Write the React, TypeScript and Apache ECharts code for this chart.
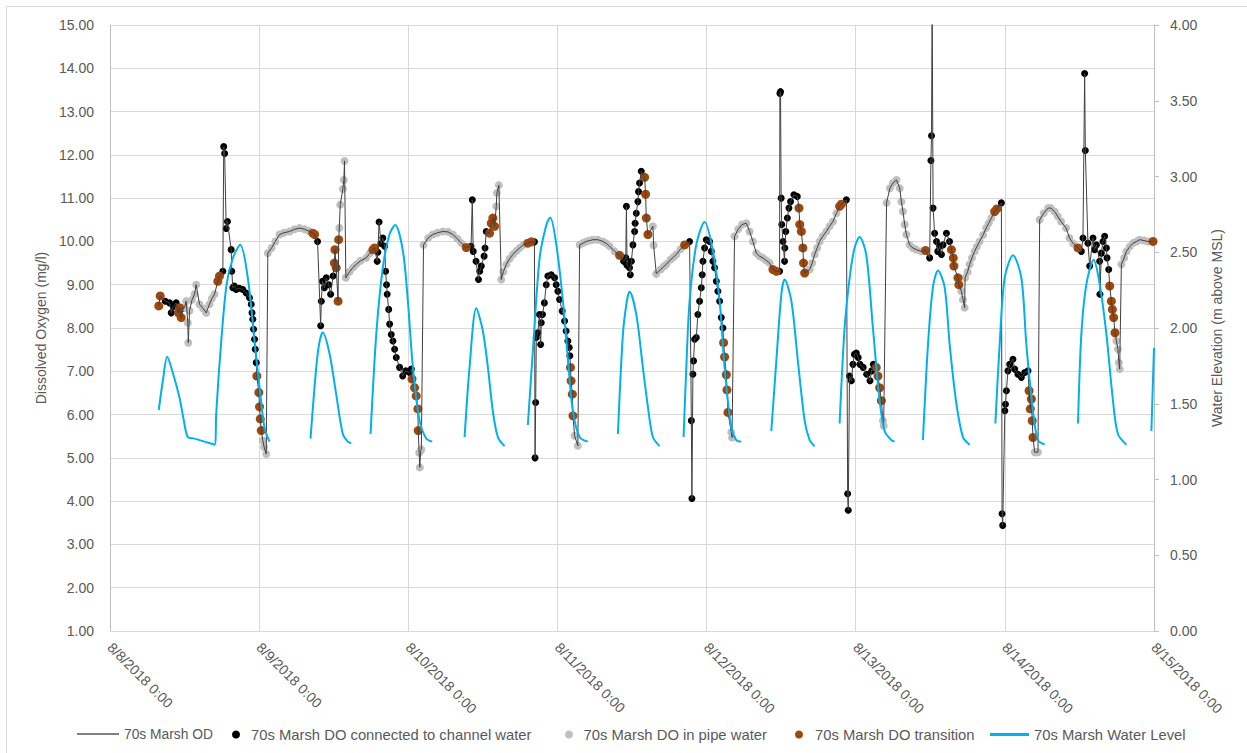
import React, { useEffect, useRef } from 'react';
import * as echarts from 'echarts';

// hours since 8/8/2018 0:00
const tickLabels = ['8/8/2018 0:00', '8/9/2018 0:00', '8/10/2018 0:00', '8/11/2018 0:00', '8/12/2018 0:00', '8/13/2018 0:00', '8/14/2018 0:00', '8/15/2018 0:00'];

const channel: [number, number][] = [
  [8.9, 8.62], [9.58, 8.58], [9.85, 8.35], [10.2, 8.5], [10.65, 8.58], [11.7, 8.45],
  [18.16, 9.31], [18.3, 12.19], [18.45, 12.03], [18.7, 10.3], [18.9, 10.46], [19.5, 9.81], [19.6, 9.31], [19.76, 8.93], [20.0, 8.97], [20.31, 8.89], [20.8, 8.92], [21.37, 8.89], [21.92, 8.81], [22.45, 8.7], [22.73, 8.55], [22.85, 8.35], [22.98, 8.2], [23.1, 7.97], [23.26, 7.74], [23.37, 7.51], [23.53, 7.2],
  [33.4, 10.0], [33.9, 8.05], [34.0, 8.62], [34.2, 9.08], [34.5, 8.93], [34.8, 9.16], [35.2, 9.0], [35.5, 8.78], [35.9, 9.2],
  [43.0, 9.54], [43.1, 9.75], [43.3, 10.45], [43.6, 9.95], [43.9, 10.08], [44.2, 9.89], [44.35, 9.31], [44.5, 9.0], [44.6, 8.78], [44.85, 8.43], [45.0, 8.09], [45.26, 7.85], [45.53, 7.7], [45.8, 7.51], [46.07, 7.32], [46.6, 7.09], [47.1, 6.89], [47.6, 7.01], [48.2, 6.97], [48.5, 7.05],
  [58.1, 9.89], [58.3, 10.96], [58.45, 9.77], [58.9, 9.54], [59.3, 9.12], [59.5, 9.31], [59.75, 9.43], [60.2, 9.66], [60.35, 9.85], [60.55, 10.23],
  [68.3, 9.99], [68.4, 5.0], [68.5, 6.28], [68.6, 7.78], [68.85, 7.89], [69.1, 8.31], [69.3, 7.62], [69.4, 8.12], [69.6, 8.31], [69.9, 8.58], [70.2, 9.0], [70.46, 9.2], [71.0, 9.23], [71.54, 9.16], [71.8, 9.0], [72.07, 8.85], [72.34, 8.66], [72.77, 8.39], [73.15, 8.16], [73.4, 7.93], [73.68, 7.7], [73.9, 7.55], [74.0, 7.36],
  [82.65, 9.54], [83.0, 9.62], [83.1, 10.81], [83.2, 9.45], [83.6, 9.39], [83.73, 9.23], [83.9, 9.54], [84.15, 9.92], [84.42, 10.23], [84.5, 10.42], [84.69, 10.65], [84.95, 10.92], [85.05, 11.15], [85.22, 11.35], [85.49, 11.62],
  [93.27, 10.0], [93.55, 5.86], [93.64, 4.06], [93.8, 6.93], [93.9, 7.24], [94.08, 7.74], [94.35, 7.78], [94.6, 8.31], [94.88, 8.62], [95.15, 8.93], [95.3, 9.23], [95.41, 9.54], [95.68, 9.85], [95.95, 10.04], [96.49, 10.0], [96.76, 9.77], [97.02, 9.54], [97.29, 9.39], [97.57, 9.08], [97.82, 8.85], [98.1, 8.62], [98.37, 8.24], [98.63, 8.0],
  [107.75, 9.31], [107.8, 13.42], [107.9, 13.46], [108.0, 11.0], [108.1, 10.39], [108.3, 10.0], [108.55, 9.54], [108.6, 9.85], [108.75, 10.23], [109.0, 10.54], [109.25, 10.77], [109.52, 10.92], [110.06, 11.08], [110.6, 11.04],
  [118.5, 10.96], [118.7, 4.17], [118.8, 3.79], [119.0, 6.89], [119.3, 6.78], [119.55, 7.16], [119.8, 7.39], [120.1, 7.42], [120.4, 7.32], [120.68, 7.16], [121.2, 7.09], [121.77, 6.93], [122.3, 6.78], [122.57, 7.01], [122.84, 7.16],
  [131.9, 9.62], [132.1, 11.87], [132.2, 12.44], [132.3, 15.6], [132.45, 10.77], [132.7, 10.19], [133.0, 10.0], [133.2, 9.77], [133.5, 9.89], [133.8, 9.7], [134.05, 9.92], [134.6, 10.19], [135.1, 10.0],
  [143.44, 10.89], [143.55, 3.71], [143.65, 3.44], [144.0, 6.09], [144.1, 6.24], [144.25, 6.55], [144.5, 7.01], [144.78, 7.16], [145.3, 7.28], [145.58, 7.05], [146.1, 6.93], [146.66, 6.86], [147.2, 6.97], [147.72, 7.01],
  [156.31, 9.77], [156.57, 10.08], [156.84, 13.88], [156.95, 12.1], [157.37, 9.96], [157.65, 9.43], [158.18, 10.08], [158.45, 9.81], [158.73, 9.92], [159.26, 9.54], [159.3, 8.78], [159.53, 9.73], [159.79, 10.0], [160.06, 10.12], [160.34, 9.85], [160.44, 9.62], [160.71, 9.35],
];

const pipe: [number, number][] = [
  [11.99, 8.47], [12.26, 8.62], [12.52, 8.12], [12.6, 7.66], [12.8, 8.4], [13.2, 8.65], [13.6, 8.78], [13.87, 9.0], [14.4, 8.55], [15.0, 8.45], [15.48, 8.35], [16.01, 8.55], [16.4, 8.68], [16.82, 8.78],
  [24.59, 5.4], [24.8, 5.25], [25.14, 5.09], [25.4, 9.73], [26.0, 9.85], [26.6, 10.0], [27.28, 10.16], [28.0, 10.2], [28.89, 10.23], [29.7, 10.28], [30.5, 10.31], [31.3, 10.28], [32.0, 10.24],
  [36.9, 10.31], [37.05, 10.85], [37.47, 11.21], [37.63, 11.42], [37.74, 11.86], [37.95, 9.16], [38.55, 9.3], [39.1, 9.4], [39.63, 9.47], [40.3, 9.55], [41.24, 9.62], [41.77, 9.72],
  [49.75, 5.12], [49.85, 4.78], [50.0, 5.17], [50.1, 5.2], [50.45, 9.92], [51.2, 10.08], [51.95, 10.16], [52.7, 10.2], [53.56, 10.23], [54.4, 10.22], [55.17, 10.16], [55.9, 10.06], [56.53, 9.96],
  [62.16, 10.81], [62.26, 11.12], [62.58, 11.3], [62.96, 9.12], [63.3, 9.3], [63.77, 9.47], [64.3, 9.6], [64.83, 9.7], [65.4, 9.78], [65.91, 9.85], [66.5, 9.92],
  [74.76, 5.51], [75.29, 5.28], [75.57, 9.92], [76.1, 9.96], [76.64, 10.0], [77.2, 10.02], [77.71, 10.04], [78.5, 10.04], [79.32, 10.0], [79.9, 9.95], [80.39, 9.89], [81.2, 9.77],
  [87.36, 10.35], [87.48, 9.91], [87.91, 9.25], [88.6, 9.35], [89.1, 9.42], [89.52, 9.47], [90.2, 9.58], [90.7, 9.64], [91.13, 9.7], [91.8, 9.82],
  [99.98, 5.59], [100.1, 5.47], [100.5, 10.12], [101.1, 10.28], [101.7, 10.39], [102.4, 10.42], [102.93, 10.23], [103.46, 10.0], [104.0, 9.73], [104.5, 9.66], [105.07, 9.62], [105.6, 9.56], [106.15, 9.5],
  [112.59, 9.35], [113.0, 9.5], [113.4, 9.7], [113.8, 9.85], [114.2, 10.0], [114.7, 10.12], [115.27, 10.23], [115.8, 10.35], [116.34, 10.46], [116.9, 10.65],
  [124.38, 5.86], [124.5, 5.74], [124.96, 10.89], [125.5, 11.23], [126.0, 11.35], [126.55, 11.42], [127.08, 11.23], [127.35, 10.92], [127.6, 10.69], [127.88, 10.39], [128.15, 10.16], [128.68, 9.92], [129.2, 9.85], [129.75, 9.81], [130.56, 9.77],
  [137.0, 8.85], [137.26, 8.66], [137.53, 8.47], [137.6, 9.16], [138.0, 9.3], [138.33, 9.47], [138.7, 9.62], [139.13, 9.77], [139.5, 9.88], [139.94, 10.0], [140.5, 10.15], [141.0, 10.31], [141.4, 10.42], [141.83, 10.54],
  [148.8, 5.13], [149.07, 5.13], [149.33, 5.13], [149.6, 10.5], [150.25, 10.65], [150.95, 10.77], [151.4, 10.77], [152.0, 10.69], [152.5, 10.58], [153.05, 10.46], [153.86, 10.31], [154.4, 10.08], [155.0, 9.95],
  [161.95, 7.7], [162.2, 7.51], [162.35, 7.2], [162.48, 7.05], [162.75, 9.47], [163.2, 9.62], [163.56, 9.77], [164.1, 9.88], [164.62, 9.96], [165.2, 10.0], [165.7, 10.04], [166.4, 10.02], [167.03, 10.0],
];

const transition: [number, number][] = [
  [7.85, 8.51], [8.08, 8.74], [11.0, 8.35], [11.19, 8.47], [11.46, 8.24], [17.35, 9.08], [17.62, 9.2],
  [23.63, 6.89], [23.95, 6.51], [24.06, 6.18], [24.18, 5.9], [24.34, 5.63],
  [32.64, 10.19], [32.92, 10.16],
  [36.1, 9.5], [36.2, 9.81], [36.4, 9.39], [36.7, 8.62], [36.8, 10.04],
  [42.3, 9.81], [42.57, 9.85],
  [48.6, 6.82], [49.01, 6.62], [49.28, 6.43], [49.54, 6.13], [49.6, 5.63],
  [57.33, 9.86],
  [61.08, 10.19], [61.35, 10.42], [61.61, 10.54], [61.89, 10.35],
  [67.24, 9.96], [67.79, 9.99],
  [74.1, 7.09], [74.2, 6.78], [74.4, 6.47], [74.5, 5.97],
  [82.0, 9.68],
  [86.03, 11.48], [86.19, 11.09], [86.3, 10.54], [86.56, 10.16],
  [92.47, 9.92],
  [98.74, 7.66], [98.9, 7.33], [99.18, 6.92], [99.28, 6.57], [99.44, 6.05],
  [106.68, 9.35], [107.22, 9.31],
  [110.87, 10.77], [111.0, 10.39], [111.25, 10.23], [111.5, 9.85], [111.6, 9.5], [111.78, 9.27],
  [117.41, 10.81], [117.69, 10.86],
  [123.3, 7.09], [123.58, 6.89], [123.85, 6.62], [124.13, 6.32],
  [131.25, 9.79],
  [135.4, 9.81], [135.7, 9.62], [135.8, 9.43], [136.45, 9.16], [136.6, 9.0],
  [142.36, 10.69], [142.7, 10.75],
  [147.9, 6.55], [148.1, 6.13], [148.27, 6.36], [148.4, 5.86], [148.53, 5.47],
  [155.77, 9.85],
  [160.87, 8.97], [161.14, 8.62], [161.3, 8.43], [161.51, 8.24], [161.72, 7.89],
  [167.84, 10.0],
];

// water level, one list per continuous stretch
const waterLevelSegments: [number, number][][] = [
  [[7.85, 1.46], [8.5, 1.65], [9.21, 1.81], [10.0, 1.72], [11.19, 1.54], [11.83, 1.4], [12.52, 1.28], [13.6, 1.27], [14.4, 1.26], [15.21, 1.25], [16.82, 1.23], [17.09, 1.43], [17.62, 1.76], [18.7, 2.27], [19.76, 2.46], [20.96, 2.55], [22.18, 2.33], [23.26, 1.91], [24.06, 1.61], [24.87, 1.34], [25.67, 1.25]],
  [[32.27, 1.27], [33.19, 1.74], [33.72, 1.91], [34.25, 1.97], [35.33, 1.83], [36.41, 1.56], [37.47, 1.3], [38.27, 1.25], [38.82, 1.24]],
  [[41.93, 1.3], [42.85, 1.96], [43.91, 2.4], [44.99, 2.62], [45.9, 2.68], [47.13, 2.51], [47.93, 2.18], [48.74, 1.74], [49.81, 1.39], [50.89, 1.27], [51.86, 1.25]],
  [[57.06, 1.28], [57.86, 1.74], [58.94, 2.13], [60.0, 1.98], [60.81, 1.74], [61.61, 1.45], [62.42, 1.28], [63.5, 1.22]],
  [[67.24, 1.36], [68.05, 1.85], [69.13, 2.46], [70.21, 2.68], [70.85, 2.73], [71.82, 2.55], [72.88, 2.18], [73.68, 1.8], [74.49, 1.45], [75.57, 1.28], [76.9, 1.25]],
  [[81.73, 1.3], [82.54, 1.96], [83.18, 2.18], [83.61, 2.24], [84.69, 2.09], [85.75, 1.74], [86.56, 1.48], [87.36, 1.28], [88.44, 1.22]],
  [[92.3, 1.28], [92.74, 1.74], [93.27, 2.18], [94.35, 2.55], [95.68, 2.7], [97.02, 2.51], [98.1, 2.18], [98.9, 1.74], [99.98, 1.34], [100.79, 1.26], [101.59, 1.25]],
  [[106.42, 1.32], [107.22, 1.78], [108.03, 2.22], [108.56, 2.32], [109.64, 2.18], [110.7, 1.78], [111.78, 1.39], [112.59, 1.26], [113.4, 1.22]],
  [[117.41, 1.37], [118.21, 2.0], [119.02, 2.33], [119.82, 2.53], [120.63, 2.6], [121.71, 2.48], [122.77, 2.0], [123.85, 1.52], [124.65, 1.32], [125.73, 1.26], [126.27, 1.25]],
  [[130.82, 1.26], [131.63, 1.89], [132.43, 2.27], [133.24, 2.38], [134.31, 2.27], [135.12, 1.89], [136.2, 1.5], [137.26, 1.28], [138.33, 1.23]],
  [[142.47, 1.37], [143.16, 1.89], [143.97, 2.33], [145.31, 2.48], [146.66, 2.33], [147.46, 1.89], [148.53, 1.45], [149.33, 1.26], [150.41, 1.23]],
  [[155.77, 1.37], [156.31, 1.96], [157.12, 2.29], [158.29, 2.45], [159.26, 2.29], [160.34, 1.96], [161.4, 1.52], [162.2, 1.3], [163.56, 1.23]],
  [[167.58, 1.32], [168.0, 1.87]],
];

const seriesNames = [
  '70s Marsh OD',
  '70s Marsh DO connected to channel water',
  '70s Marsh DO in pipe water',
  '70s Marsh DO transition',
  '70s Marsh Water Level',
];

const FONT = '"Liberation Sans", Arial, sans-serif';
const TXT = '#595959';

export default function App() {
  const ref = useRef<HTMLDivElement>(null);

  useEffect(() => {
    document.body.style.margin = '0';
    if (!ref.current) return;
    const chart = echarts.init(ref.current, null, { renderer: 'svg' });

    const odLine = [...channel, ...pipe, ...transition].sort((a, b) => a[0] - b[0]);
    const waterData: any[] = [];
    waterLevelSegments.forEach((seg, i) => {
      if (i > 0) waterData.push([seg[0][0] - 0.05, '-']);
      seg.forEach((p) => waterData.push(p));
    });

    const legendBase = {
      top: 727,
      itemHeight: 8,
      itemGap: 0,
      padding: 0,
      textStyle: { fontSize: 14.8, color: TXT, fontFamily: FONT },
      selectedMode: false,
    };

    chart.setOption({
      animation: false,
      backgroundColor: '#ffffff',
      textStyle: { fontFamily: FONT },
      grid: { left: 110, right: 93, top: 25, bottom: 122, containLabel: false },
      graphic: [
        {
          type: 'rect',
          shape: { x: 6.5, y: 6.5, width: 1300, height: 800 },
          style: { fill: 'none', stroke: '#d9d9d9', lineWidth: 1 },
          silent: true,
        },
      ],
      legend: [
        {
          ...legendBase, left: 77, itemWidth: 42, itemHeight: 2,
          textStyle: { ...legendBase.textStyle, fontSize: 13.8 },
          data: [{ name: seriesNames[0], icon: 'rect', itemStyle: { color: '#808080' } }],
        },
        { ...legendBase, left: 232, itemWidth: 20, data: [{ name: seriesNames[1], icon: 'circle' }] },
        { ...legendBase, left: 565, itemWidth: 19, data: [{ name: seriesNames[2], icon: 'circle' }] },
        { ...legendBase, left: 795, itemWidth: 22, data: [{ name: seriesNames[3], icon: 'circle' }] },
        {
          ...legendBase, left: 990, itemWidth: 39, itemHeight: 3,
          data: [{ name: seriesNames[4], icon: 'rect' }],
        },
      ],
      xAxis: {
        type: 'value',
        min: 0,
        max: 168,
        interval: 24,
        axisLine: { show: true, lineStyle: { color: '#d9d9d9' } },
        axisTick: { show: false },
        splitLine: { show: true, lineStyle: { color: '#d9d9d9', width: 1 } },
        axisLabel: {
          rotate: -45,
          margin: 14,
          fontSize: 14,
          color: TXT,
          fontFamily: FONT,
          showMinLabel: true,
          showMaxLabel: true,
          hideOverlap: false,
          formatter: (v: number) => tickLabels[Math.round(v / 24)] ?? '',
        },
      },
      yAxis: [
        {
          type: 'value',
          min: 1,
          max: 15,
          interval: 1,
          name: 'Dissolved Oxygen (mg/l)',
          nameLocation: 'middle',
          nameRotate: 90,
          nameGap: 60,
          nameTextStyle: { fontSize: 14, color: TXT, fontFamily: FONT },
          axisLine: { show: true, lineStyle: { color: '#bfbfbf' } },
          axisTick: { show: false },
          splitLine: { show: true, lineStyle: { color: '#d9d9d9', width: 1 } },
          axisLabel: {
            margin: 16,
            fontSize: 14,
            color: TXT,
            fontFamily: FONT,
            formatter: (v: number) => v.toFixed(2),
          },
        },
        {
          type: 'value',
          min: 0,
          max: 4,
          interval: 0.5,
          position: 'right',
          name: 'Water Elevation (m above MSL)',
          nameLocation: 'middle',
          nameRotate: 90,
          nameGap: 56,
          nameTextStyle: { fontSize: 14, color: TXT, fontFamily: FONT },
          axisLine: { show: true, lineStyle: { color: '#bfbfbf' } },
          axisTick: { show: true, length: 5, lineStyle: { color: '#bfbfbf' } },
          splitLine: { show: false },
          axisLabel: {
            margin: 16,
            fontSize: 14,
            color: TXT,
            fontFamily: FONT,
            formatter: (v: number) => v.toFixed(2),
          },
        },
      ],
      series: [
        {
          name: seriesNames[0],
          type: 'line',
          yAxisIndex: 0,
          data: odLine,
          symbol: 'none',
          showSymbol: false,
          lineStyle: { color: '#404040', width: 1 },
          itemStyle: { color: '#404040' },
          silent: true,
          clip: true,
        },
        {
          name: seriesNames[1],
          type: 'scatter',
          yAxisIndex: 0,
          data: channel,
          symbol: 'circle',
          symbolSize: 7,
          itemStyle: { color: '#000000', opacity: 1 },
          silent: true,
          clip: true,
        },
        {
          name: seriesNames[2],
          type: 'scatter',
          yAxisIndex: 0,
          data: pipe,
          symbol: 'circle',
          symbolSize: 8,
          itemStyle: { color: '#bfbfbf', opacity: 1 },
          silent: true,
          clip: true,
        },
        {
          name: seriesNames[3],
          type: 'scatter',
          yAxisIndex: 0,
          data: transition,
          symbol: 'circle',
          symbolSize: 9,
          itemStyle: { color: '#9e480e', opacity: 1 },
          silent: true,
          clip: true,
        },
        {
          name: seriesNames[4],
          type: 'line',
          yAxisIndex: 1,
          data: waterData,
          symbol: 'none',
          showSymbol: false,
          smooth: 0.3,
          connectNulls: false,
          lineStyle: { color: '#00b0f0', width: 2 },
          itemStyle: { color: '#00b0f0' },
          silent: true,
        },
      ],
    });

    return () => chart.dispose();
  }, []);

  return <div ref={ref} style={{ width: 1247, height: 753 }} />;
}
